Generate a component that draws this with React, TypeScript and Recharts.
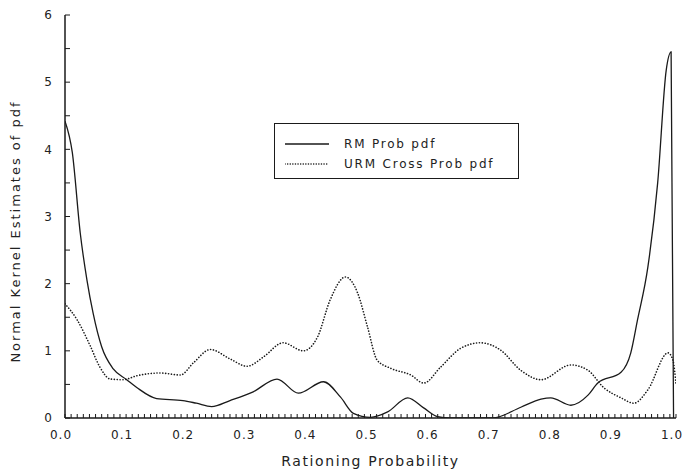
import { Legend, Line, LineChart, XAxis, YAxis } from "recharts";

// RM probability kernel density (solid)
const RM_X = [
  0, 0.012, 0.025, 0.036, 0.046, 0.06, 0.079, 0.101, 0.118, 0.15, 0.193, 0.215,
  0.24, 0.27, 0.308, 0.347, 0.382, 0.423, 0.451, 0.472, 0.5, 0.528, 0.561,
  0.587, 0.61, 0.63, 0.7, 0.746, 0.779, 0.795, 0.828, 0.856, 0.872, 0.91,
  0.926, 0.937, 0.954, 0.97, 0.984, 0.992, 0.996,
];
const RM_Y = [
  4.42, 3.95, 2.75, 2.05, 1.56, 1.06, 0.73, 0.57, 0.45, 0.29, 0.26, 0.22, 0.17,
  0.26, 0.39, 0.58, 0.37, 0.54, 0.31, 0.07, 0.01, 0.09, 0.3, 0.15, 0.02, 0, 0,
  0.16, 0.28, 0.3, 0.19, 0.34, 0.52, 0.68, 0.97, 1.46, 2.25, 3.5, 5.18, 5.45, 0,
];

// URM cross probability kernel density (dotted)
const URM_X = [
  0, 0.02, 0.041, 0.057, 0.074, 0.095, 0.118, 0.156, 0.189, 0.21, 0.238, 0.27,
  0.298, 0.325, 0.357, 0.39, 0.413, 0.434, 0.459, 0.479, 0.495, 0.511, 0.533,
  0.566, 0.587, 0.615, 0.648, 0.68, 0.713, 0.746, 0.779, 0.828, 0.856, 0.882,
  0.91, 0.931, 0.954, 0.987, 0.995, 1.0,
];
const URM_Y = [
  1.7, 1.46, 1.08, 0.76, 0.58, 0.57, 0.63, 0.67, 0.64, 0.82, 1.02, 0.88, 0.77,
  0.91, 1.12, 1.0, 1.2, 1.76, 2.1, 1.86, 1.36, 0.86, 0.74, 0.64, 0.52, 0.76,
  1.04, 1.12, 1.01, 0.71, 0.57, 0.79, 0.71, 0.45, 0.3, 0.22, 0.42, 0.97, 0.86,
  0.5,
];

const SERIES_NAMES = ["RM Prob pdf", "URM Cross Prob pdf"];
const X_LABEL = "Rationing Probability";
const Y_LABEL = "Normal Kernel Estimates of pdf";

const X_TICKS = Array.from({ length: 101 }, (_, i) => i / 100);
const Y_TICKS = Array.from({ length: 13 }, (_, i) => i / 2);

const rmData = RM_X.map((x, i) => ({ x, y: RM_Y[i] }));
const urmData = URM_X.map((x, i) => ({ x, y: URM_Y[i] }));

const FONT = "'DejaVu Sans', sans-serif";
const INK = "#1a1a1a";

const xFmt = (v: number) =>
  Math.round(v * 100) % 10 === 0 ? v.toFixed(1) : "";
const yFmt = (v: number) => (Number.isInteger(v) ? String(v) : "");

function LegendBox() {
  return (
    <div
      style={{
        boxSizing: "border-box",
        width: "100%",
        height: "100%",
        border: `1px solid ${INK}`,
        background: "#fff",
        paddingTop: 10,
        fontFamily: FONT,
        fontSize: 12,
        letterSpacing: 1.8,
        color: "#222",
      }}
    >
      {SERIES_NAMES.map((name, i) => (
        <div
          key={name}
          style={{ display: "flex", alignItems: "center", height: 20 }}
        >
          <svg width={54} height={4} style={{ marginLeft: 10 }}>
            <line
              x1={0}
              y1={2}
              x2={44}
              y2={2}
              stroke={INK}
              strokeWidth={i === 0 ? 1.3 : 1.5}
              strokeDasharray={i === 0 ? undefined : "0.1 2.5"}
              strokeLinecap={i === 0 ? "butt" : "round"}
            />
          </svg>
          <span style={{ marginLeft: 5 }}>{name}</span>
        </div>
      ))}
    </div>
  );
}

export default function App() {
  return (
    <div style={{ position: "absolute", left: 0, top: 0 }}>
      <LineChart
        width={684}
        height={474}
        margin={{ top: 15, right: 8, bottom: 0, left: 0 }}
      >
        <XAxis
          xAxisId="x"
          dataKey="x"
          type="number"
          domain={[0, 1]}
          allowDataOverflow
          ticks={X_TICKS}
          interval={0}
          tickFormatter={xFmt}
          height={56}
          tickSize={-4}
          tickMargin={16}
          stroke={INK}
          axisLine={{ stroke: INK, strokeWidth: 1.5 }}
          tick={{
            fill: "#222",
            fontSize: 12,
            fontFamily: FONT,
            letterSpacing: 1,
            dx: -4,
          }}
          label={{
            value: X_LABEL,
            position: "insideBottom",
            offset: 8,
            style: { fill: "#222", fontSize: 14, fontFamily: FONT, letterSpacing: 1.6 },
          }}
        />
        <XAxis
          xAxisId="top"
          orientation="top"
          type="number"
          domain={[0, 1]}
          allowDataOverflow
          ticks={X_TICKS}
          interval={0}
          tick={false}
          height={0}
          tickSize={-3}
          stroke={INK}
        />
        <YAxis
          yAxisId="y"
          type="number"
          domain={[0, 6]}
          allowDataOverflow
          ticks={Y_TICKS}
          interval={0}
          tickFormatter={yFmt}
          width={65}
          tickSize={-5}
          tickMargin={18}
          stroke={INK}
          axisLine={{ stroke: INK, strokeWidth: 1.5 }}
          tick={{ fill: "#222", fontSize: 12, fontFamily: FONT }}
          label={{
            value: Y_LABEL,
            angle: -90,
            position: "insideLeft",
            offset: 15,
            dy: 15,
            style: {
              textAnchor: "middle",
              fill: "#222",
              fontSize: 13,
              fontFamily: FONT,
              letterSpacing: 2,
            },
          }}
        />
        <YAxis
          yAxisId="r"
          orientation="right"
          type="number"
          domain={[0, 6]}
          allowDataOverflow
          ticks={Y_TICKS}
          interval={0}
          tick={false}
          width={0}
          tickSize={-5}
          stroke={INK}
        />
        <Legend
          layout="vertical"
          align="center"
          verticalAlign="middle"
          content={() => <LegendBox />}
          wrapperStyle={{ left: 274, top: 123, width: 245, height: 56 }}
        />
        <Line
          xAxisId="x"
          yAxisId="y"
          name={SERIES_NAMES[0]}
          data={rmData}
          dataKey="y"
          type="monotone"
          stroke={INK}
          strokeWidth={1.3}
          dot={false}
          isAnimationActive={false}
        />
        <Line
          xAxisId="x"
          yAxisId="y"
          name={SERIES_NAMES[1]}
          data={urmData}
          dataKey="y"
          type="monotone"
          stroke={INK}
          strokeWidth={1.6}
          strokeDasharray="0.1 2.8"
          strokeLinecap="round"
          dot={false}
          isAnimationActive={false}
        />
      </LineChart>
    </div>
  );
}
